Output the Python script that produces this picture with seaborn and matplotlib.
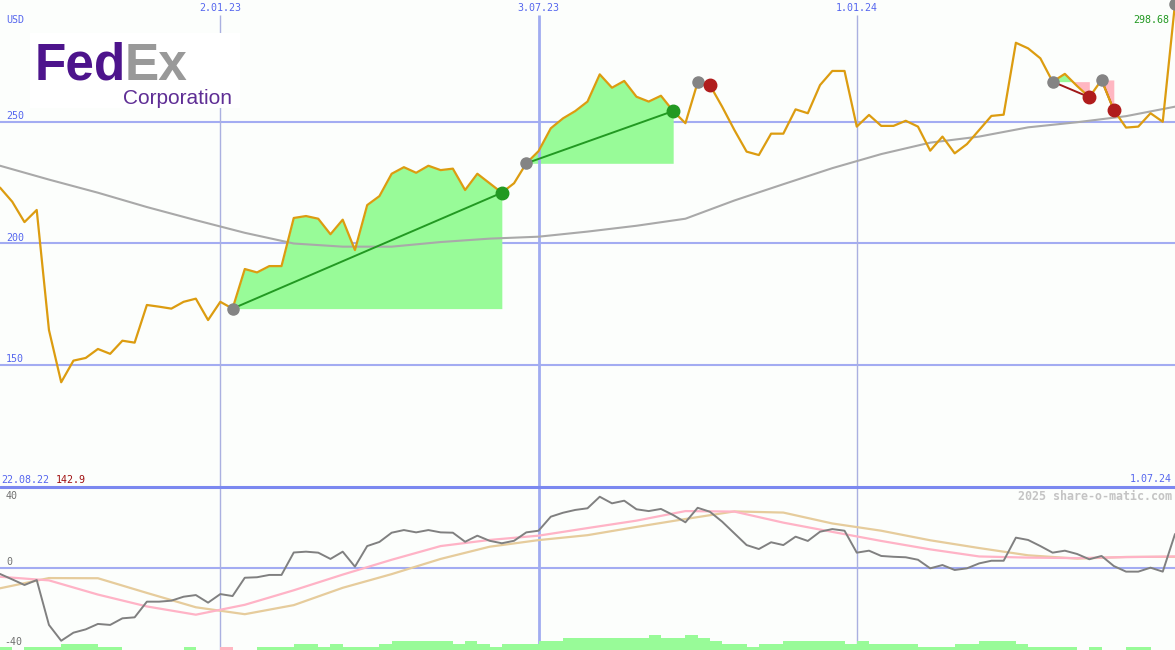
import pandas as pd
import numpy as np
import matplotlib
matplotlib.use('Agg')
import matplotlib.pyplot as plt
from matplotlib.patches import Rectangle
import seaborn as sns

# weekly closes, FedEx (USD)
dates = pd.date_range('2022-08-29', periods=97, freq='7D')
price = [223.0, 217.2, 208.8, 213.8, 164.4, 142.9, 151.8, 152.9, 156.6, 154.6,
         160.0, 159.2, 174.7, 174.0, 173.2, 176.0, 177.3, 168.5, 176.0, 173.2,
         189.5, 188.1, 190.7, 190.7, 210.5, 211.3, 210.2, 203.8, 209.8, 197.3,
         215.8, 219.5, 228.7, 231.4, 229.1, 232.0, 230.2, 230.8, 222.0, 228.7,
         224.8, 220.9, 224.8, 233.0, 238.0, 247.4, 251.5, 254.5, 258.4, 269.6,
         264.1, 266.9, 260.4, 258.4, 260.8, 254.5, 249.5, 266.3, 265.2, 256.3,
         246.7, 237.8, 236.4, 245.2, 245.2, 255.2, 253.6, 265.2, 271.0, 271.0,
         248.1, 252.9, 248.4, 248.4, 250.5, 248.1, 238.2, 244.0, 237.1, 240.9,
         246.7, 252.5, 253.0, 282.6, 280.3, 276.2, 266.6, 269.8, 264.8, 260.2,
         267.3, 254.9, 247.7, 248.1, 253.6, 250.1, 298.68]

# moving average, read every 4 weeks
ma_dates = dates[::4]
ma = [232.0, 226.3, 220.9, 215.0, 209.6, 204.4, 200.0, 198.7, 198.7, 200.6,
      202.0, 202.8, 204.9, 207.3, 210.2, 217.7, 224.4, 231.0, 236.8, 241.5,
      244.0, 247.8, 249.9, 252.4, 256.3]

# oscillator (lower panel)
osc = [-3.6, -6.9, -10.3, -7.3, -34.5, -44.1, -39.2, -37.2, -33.9, -34.5,
       -30.5, -29.9, -20.4, -20.4, -19.8, -17.4, -16.4, -21.0, -15.8, -17.0,
       -5.9, -5.6, -4.2, -4.2, 9.4, 9.9, 9.3, 5.5, 9.9, 0.8,
       13.3, 15.8, 21.4, 23.0, 21.6, 23.0, 21.6, 21.4, 15.9, 19.6,
       16.5, 15.0, 16.5, 21.6, 22.6, 31.1, 33.5, 35.2, 36.2, 43.2,
       39.2, 40.8, 35.6, 34.5, 35.8, 32.1, 27.7, 36.5, 34.1, 28.1,
       21.0, 13.9, 11.5, 15.6, 13.9, 19.0, 16.4, 22.0, 23.6, 22.6,
       9.3, 10.5, 7.3, 6.8, 6.5, 5.0, -0.2, 1.8, -1.2, -0.2,
       2.8, 4.4, 4.4, 18.4, 17.0, 13.3, 9.3, 10.5, 8.5, 5.3,
       7.3, 1.2, -2.2, -2.2, 0.2, -2.2, 20.6]
osc_fast = [-5.3, -7.5, -16.1, -23.3, -28.3, -22.3, -13.5, -4.0, 5.0, 13.3,
            17.0, 19.6, 24.2, 28.7, 34.5, 34.2, 27.5, 21.9, 16.4, 11.3,
            7.0, 6.3, 6.0, 6.6, 7.0]
osc_slow = [-12.3, -6.1, -6.2, -15.1, -23.8, -28.0, -22.5, -12.0, -3.7, 5.5,
            12.9, 16.9, 19.9, 24.9, 29.7, 34.3, 33.6, 27.0, 22.6, 16.8,
            12.1, 7.7, 5.7, 6.7, 6.8]

# signal bars at the bottom (negative = pink)
bars = [1, 0, 1, 1, 1, 2, 2, 2, 1, 1,
        0, 0, 0, 0, 0, 1, 0, 0, -1, 0,
        0, 1, 1, 1, 2, 2, 1, 2, 1, 1,
        1, 2, 3, 3, 3, 3, 3, 2, 3, 2,
        1, 2, 2, 2, 3, 3, 4, 4, 4, 4,
        4, 4, 4, 5, 4, 4, 5, 4, 3, 2,
        2, 1, 2, 2, 3, 3, 3, 3, 3, 2,
        3, 2, 2, 2, 2, 1, 1, 1, 2, 2,
        3, 3, 3, 2, 1, 1, 1, 1, 0, 1,
        0, 0, 1, 1, 0, 0, 0]

# trades: (buy week, sell week)
trades = [(19, 41), (43, 55), (57, 58), (86, 89), (90, 91)]
open_buy = 96

grid_dates = pd.to_datetime(['2023-01-02', '2023-07-03', '2024-01-01'])
grid_labels = ['2.01.23', '3.07.23', '1.01.24']

W, H = 1175, 650
BG = '#fcfefc'
BLUE = '#5566ee'
GRID = '#a3acf2'

sns.set_theme(style='white')
fig = plt.figure(figsize=(W / 100, H / 100), dpi=100)
fig.patch.set_facecolor(BG)

ax = fig.add_axes([0, 163 / H, 1, 487 / H])
ax2 = fig.add_axes([0, 0, 1, 163 / H], sharex=ax)
for a in (ax, ax2):
    a.set_facecolor(BG)
    for s in a.spines.values():
        s.set_visible(False)

p = np.array(price)
ax.set_ylim(99.8, 300.2)

for v in [150, 200, 250]:
    ax.axhline(v, color=GRID, lw=1.5, zorder=0.5)
ax.vlines(grid_dates, 99.8, 294, colors=['#aab0e0', '#a0acf0', '#aab0e0'],
          lw=[1, 2, 1], zorder=1.5)

# trade areas and lines
for b, s in trades:
    d = dates[b:s + 1]
    seg = p[b:s + 1]
    ax.fill_between(d, seg, p[b], where=seg >= p[b], interpolate=True,
                    color='#98fb98', lw=0, zorder=1)
    ax.fill_between(d, seg, p[b], where=seg < p[b], interpolate=True,
                    color='#ffb6c1', lw=0, zorder=1)
    win = p[s] > p[b]
    ax.plot([dates[b], dates[s]], [p[b], p[s]],
            color='#229922' if win else '#a01818', lw=1.4, zorder=2.5)

sns.lineplot(x=ma_dates, y=ma, ax=ax, color='#a9a9a9', lw=1.5, zorder=2)
sns.lineplot(x=dates, y=price, ax=ax, color='#dc9c10', lw=1.6, zorder=3)

for b, s in trades:
    ax.plot(dates[b], p[b], 'o', ms=8, color='#848484', zorder=4)
    ax.plot(dates[s], p[s], 'o', ms=9,
            color='#229922' if p[s] > p[b] else '#b01c1c', zorder=4)
ax.plot(dates[open_buy], p[open_buy], 'o', ms=8, color='#848484', zorder=4)

# lower panel
lo, hi = -49.7, 49.1
ax2.set_ylim(lo, hi)
ax2.axhline(0, color=GRID, lw=1.5, zorder=0.5)
ax2.vlines(grid_dates, lo, hi, colors=['#aab0e0', '#a0acf0', '#aab0e0'],
           lw=[1, 2, 1], zorder=0.6)
b_arr = np.array(bars)
ax2.bar(dates, np.abs(b_arr) * 3 / 1.65, width=7, align='edge', bottom=lo,
        color=['#ffb6c1' if v < 0 else '#98fb98' for v in b_arr], lw=0, zorder=1)
sns.lineplot(x=ma_dates, y=osc_slow, ax=ax2, color='#e6cc9c', lw=1.6, zorder=2)
sns.lineplot(x=ma_dates, y=osc_fast, ax=ax2, color='#ffb3c6', lw=1.6, zorder=2.1)
sns.lineplot(x=dates, y=osc, ax=ax2, color='#808080', lw=1.4, zorder=3)

for a in (ax, ax2):
    a.set_xlim(dates[0], dates[-1])
    a.set_xlabel('')
    a.set_ylabel('')
    a.set_xticks([])
    a.set_yticks([])

# divider between panels
fig.add_artist(plt.Line2D([0, 1], [163 / H, 163 / H], color='#7b88f0', lw=2.2,
                          transform=fig.transFigure, zorder=10))

MONO = ['DejaVu Sans Mono']


def lab(x, y, s, color=BLUE, ha='left', size=7.2, weight='normal'):
    fig.text(x / W, 1 - y / H, s, color=color, ha=ha, va='center',
             fontsize=size, family=MONO, fontweight=weight, zorder=12)


lab(6, 20, 'USD')
for d, t in zip(grid_dates, grid_labels):
    xp = (d - dates[0]).days / 672 * W
    lab(xp, 8, t, ha='center')
lab(6, 116, '250')
lab(6, 238, '200')
lab(6, 359, '150')
lab(1169, 20, '298.68', color='#229922', ha='right')
lab(1, 480, '22.08.22')
lab(56, 480, '142.9', color='#a01010')
lab(1172, 479, '1.07.24', ha='right')
lab(6, 496, '40', color='#707070')
lab(6, 562, '0', color='#707070')
lab(4, 642, '-40', color='#707070')
lab(1172, 496, '2025 share-o-matic.com', color='#c4c4c4', ha='right', size=8.4,
    weight='bold')

# logo
fig.add_artist(Rectangle((30 / W, 1 - 108 / H), 210 / W, 75 / H, transform=fig.transFigure,
                         facecolor='white', edgecolor='none', zorder=11))
LOGO = ['Liberation Sans', 'DejaVu Sans']
t_fed = fig.text(35 / W, 1 - 80 / H, 'Fed', color='#4d148c', fontsize=37, fontweight='bold',
                 family=LOGO, va='baseline', ha='left', zorder=12)
renderer = fig.canvas.get_renderer()
x_ex = t_fed.get_window_extent(renderer).x1 - 2
fig.text(x_ex / W, 1 - 80 / H, 'Ex', color='#999999', fontsize=37, fontweight='bold',
         family=LOGO, va='baseline', ha='left', zorder=12)
fig.text(123 / W, 1 - 103.5 / H, 'Corporation', color='#5f2e95', fontsize=15,
         family=['Liberation Sans', 'DejaVu Sans'], va='baseline', ha='left', zorder=12)

fig.savefig('out.png', dpi=100, facecolor=BG)
